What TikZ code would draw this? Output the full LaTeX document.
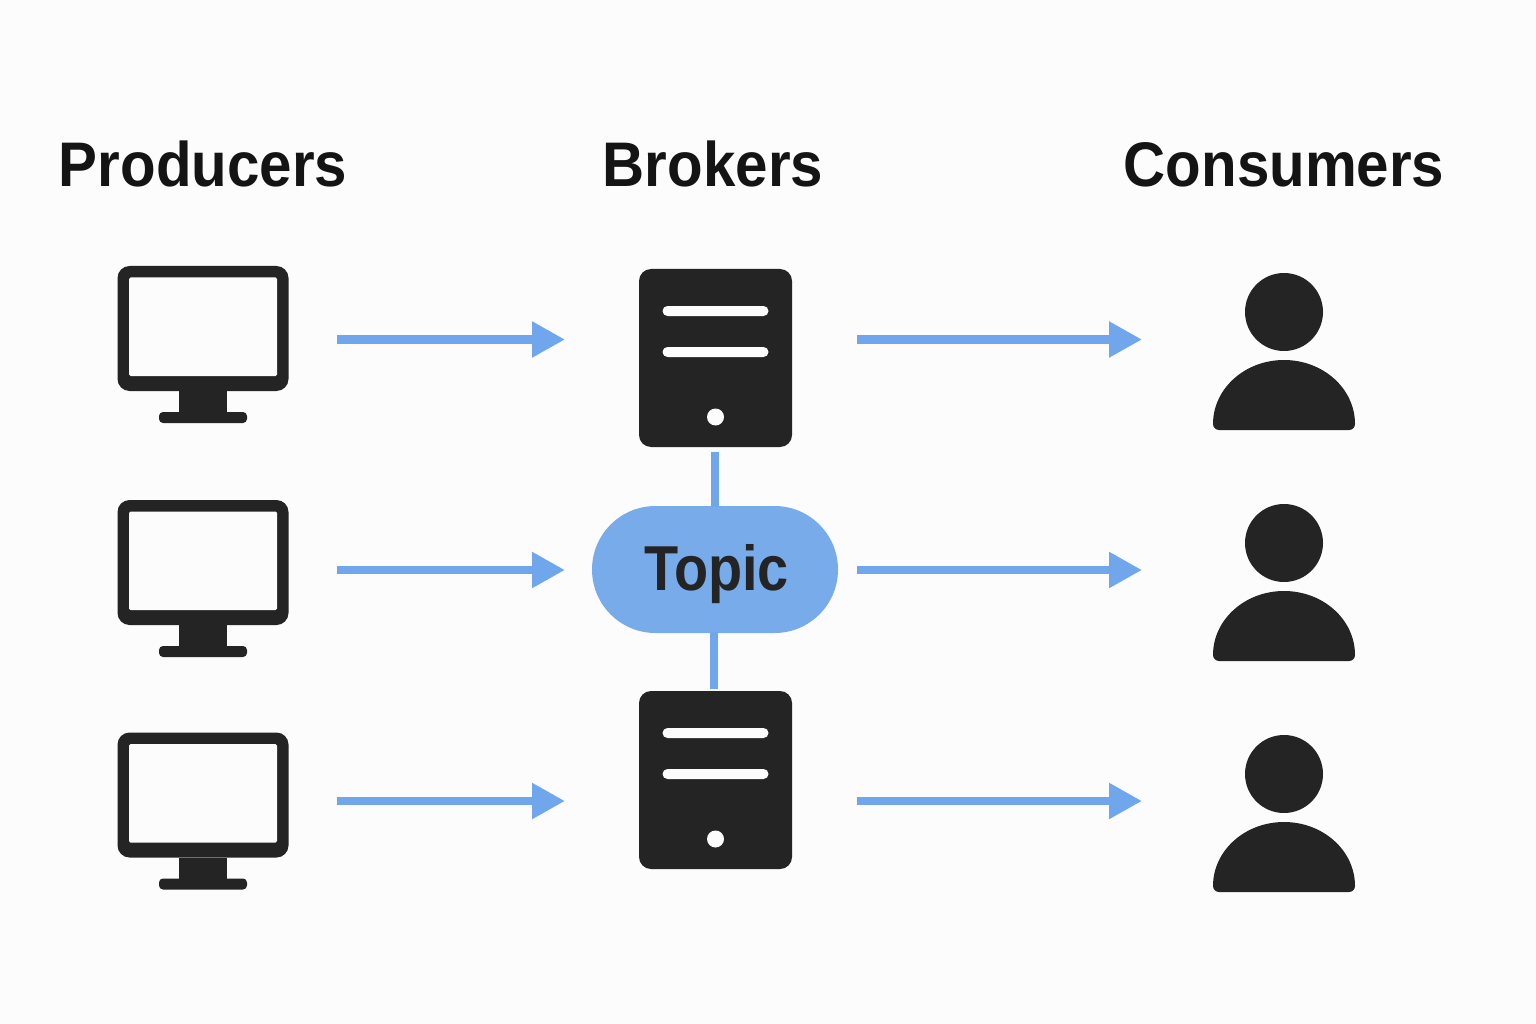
\documentclass[tikz,border=0pt]{standalone}
\usepackage{fontspec}
\setmainfont{Liberation Sans}
\newfontfamily\headfont{Liberation Sans}[FakeStretch=0.925]
\newfontfamily\topicfont{Liberation Sans}[FakeStretch=0.88]
\usetikzlibrary{positioning,arrows.meta,shapes.misc}
\definecolor{ink}{HTML}{242424}
\definecolor{paper}{HTML}{FCFCFC}
\definecolor{flow}{HTML}{6FA6EC}
\definecolor{topicblue}{HTML}{78ABEA}
\begin{document}
\begin{tikzpicture}[x=1pt,y=-1pt]
	\tikzstyle{every node} = [inner sep=0pt, outer sep=0pt]
	\tikzstyle{head} = [font=\headfont\fontsize{63}{70}\selectfont\bfseries, text=black!92, anchor=base]
	\tikzstyle{monitor} = [rectangle, fill=ink, rounded corners=12pt, minimum width=171pt, minimum height=125pt]
	\tikzstyle{screen} = [rectangle, fill=paper, rounded corners=1.5pt, minimum width=148pt, minimum height=98.5pt]
	\tikzstyle{neck} = [rectangle, fill=ink, minimum width=48pt, minimum height=21pt]
	\tikzstyle{foot} = [rectangle, fill=ink, rounded corners=4pt, minimum width=88pt, minimum height=11pt]
	\tikzstyle{server} = [rectangle, fill=ink, rounded corners=12pt, minimum width=153pt, minimum height=178pt]
	\tikzstyle{bar} = [rounded rectangle, fill=paper, minimum width=106pt, minimum height=10pt]
	\tikzstyle{led} = [circle, fill=paper, minimum size=17pt]
	\tikzstyle{person} = [circle, fill=ink, minimum size=78pt]
	\tikzstyle{topic} = [rounded rectangle, fill=topicblue, text=ink, minimum width=246pt, minimum height=127pt, text height=56pt, text depth=14pt, font=\topicfont\fontsize{63.5}{70}\selectfont\bfseries]
	\tikzstyle{line} = [draw=flow, line width=8.5pt, -{Triangle[length=33pt,width=34pt,fill=flow]}]
	\tikzstyle{link} = [draw=flow, line width=8pt]

	\fill [paper] (0,0) rectangle (1536,1024);

	\node [head] (Producers) at (203,187) {Producers};
	\node [head] (Brokers) at (713,187) {Brokers};
	\node [head] (Consumers) at (1284,187) {Consumers};

	% producers
	\node [monitor] (mon1) at (203,328.5) {};
	\node [screen, below=11.5pt of mon1.north] (scr1) {};
	\node [neck, below=0pt of mon1] (neck1) {};
	\node [foot, below=0pt of neck1] (foot1) {};
	\node [monitor] (mon2) at (203,562.5) {};
	\node [screen, below=11.5pt of mon2.north] (scr2) {};
	\node [neck, below=0pt of mon2] (neck2) {};
	\node [foot, below=0pt of neck2] (foot2) {};
	\node [monitor] (mon3) at (203,795) {};
	\node [screen, below=11.5pt of mon3.north] (scr3) {};
	\node [neck, below=0pt of mon3] (neck3) {};
	\node [foot, below=0pt of neck3] (foot3) {};

	% brokers
	\node [server] (srv1) at (715.5,358) {};
	\node [bar, below=37pt of srv1.north] (bar11) {};
	\node [bar, below=31pt of bar11] (bar12) {};
	\node [led, above=21.5pt of srv1.south] (led1) {};
	\node [topic] (Topic) at (715,569.5) {\hspace{3pt}Topic};
	\node [server] (srv2) at (715.5,780) {};
	\node [bar, below=37pt of srv2.north] (bar21) {};
	\node [bar, below=31pt of bar21] (bar22) {};
	\node [led, above=21.5pt of srv2.south] (led2) {};
	\path [link] ([shift={(-0.5,5)}]srv1.south) -- ([shift={(0,1)}]Topic.north);
	\path [link] ([shift={(-1.5,-1)}]Topic.south) -- ([shift={(-2,-2)}]srv2.north);

	% consumers
	\node [person] (per1) at (1284,312) {};
	\fill [ink] (per1.center) ++(0,118) -- ++(65,0) arc [start angle=270, end angle=360, radius=6pt] arc [start angle=0, end angle=180, x radius=71pt, y radius=64pt] arc [start angle=180, end angle=270, radius=6pt] -- cycle;
	\node [person] (per2) at (1284,543) {};
	\fill [ink] (per2.center) ++(0,118) -- ++(65,0) arc [start angle=270, end angle=360, radius=6pt] arc [start angle=0, end angle=180, x radius=71pt, y radius=64pt] arc [start angle=180, end angle=270, radius=6pt] -- cycle;
	\node [person] (per3) at (1284,774) {};
	\fill [ink] (per3.center) ++(0,118) -- ++(65,0) arc [start angle=270, end angle=360, radius=6pt] arc [start angle=0, end angle=180, x radius=71pt, y radius=64pt] arc [start angle=180, end angle=270, radius=6pt] -- cycle;

	% flow
	\path [line] ([shift={(48,11)}]mon1.east) -- ([shift={(-74,-18.5)}]srv1.west);
	\path [line] ([shift={(48,7.5)}]mon2.east) -- ([shift={(-27,0.5)}]Topic.west);
	\path [line] ([shift={(48,6)}]mon3.east) -- ([shift={(-74,21)}]srv2.west);
	\path [line] ([shift={(65,-18.5)}]srv1.east) -- ([shift={(-103,27.5)}]per1.west);
	\path [line] ([shift={(19,0.5)}]Topic.east) -- ([shift={(-103,27)}]per2.west);
	\path [line] ([shift={(65,21)}]srv2.east) -- ([shift={(-103,27)}]per3.west);
\end{tikzpicture}
\end{document}
